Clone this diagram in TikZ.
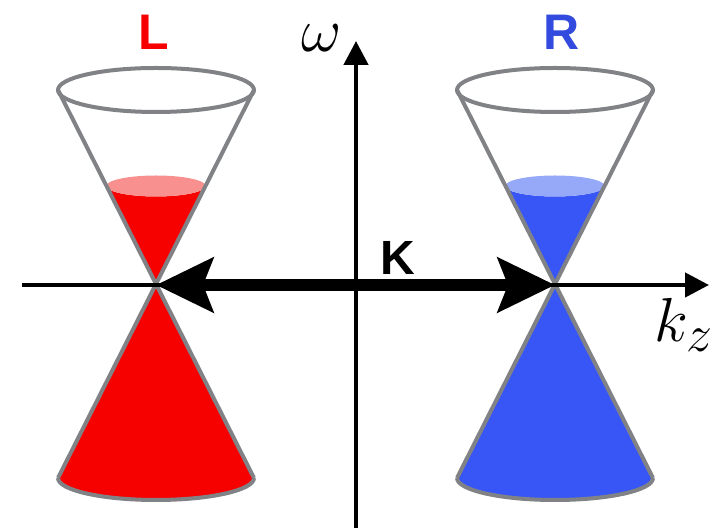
\documentclass[tikz,border=0pt]{standalone}
\usepackage{amsmath, amssymb}
\usepackage{fontspec}
\usepackage{xcolor}
\usepackage{tikz}
\usetikzlibrary{arrows.meta}
\newfontfamily\labelfont{Liberation Sans}
\definecolor{conegray}{RGB}{128,130,134}
\definecolor{lred}{RGB}{247,0,0}
\definecolor{lredtop}{RGB}{248,144,144}
\definecolor{lblue}{RGB}{56,86,246}
\definecolor{lbluetop}{RGB}{150,168,248}
\definecolor{rblue}{RGB}{50,74,222}

\begin{document}
\begin{tikzpicture}
                    [x=1pt, y=1pt,
                     conelin/.style={draw=conegray, line width=4pt},
                     axis/.style={line width=4.5pt, -{Triangle[length=24pt,width=24pt]}},
                     chirlabel/.style={font=\labelfont\bfseries\fontsize{50}{56}\selectfont},
                     axlabel/.style={font=\Huge, scale=2.5}]
                    \useasboundingbox (0,0) rectangle (726,532);
                    % cones
                    \foreach \cx/\main/\light in {156/lred/lredtop, 555/lblue/lbluetop} {
                        \fill[\main] (\cx-98,54) -- (\cx,247) -- (\cx+98,54)
                            arc[start angle=0, end angle=-180, x radius=98, y radius=22] -- cycle;
                        \fill[\main] (\cx,247) -- (\cx+49.7,346)
                            arc[start angle=0, end angle=-180, x radius=49.7, y radius=10.5] -- cycle;
                        \fill[\light] (\cx,346) ellipse[x radius=49.7, y radius=10.5];
                        \draw[conelin] (\cx-98,442) -- (\cx+98,54);
                        \draw[conelin] (\cx+98,442) -- (\cx-98,54);
                        \draw[conelin] (\cx,442) ellipse[x radius=98, y radius=22];
                        \draw[conelin] (\cx+98,54) arc[start angle=0, end angle=-180, x radius=98, y radius=22];
                    }
                    \coordinate (apexL) at (156,247);
                    \coordinate (apexR) at (555,247);
                    % axes
                    \coordinate (kzstart) at (22,247);
                    \coordinate (kzend) at (709,247);
                    \coordinate (wstart) at (356,4);
                    \coordinate (wend) at (356,491);
                    \draw[axis] (kzstart) -- (kzend);
                    \draw[axis] (wstart) -- (wend);
                    \node[axlabel] (omega) at (322,494) {$\omega$};
                    \node[axlabel] (kz) at (684,207) {$k_z$};
                    % chiralities
                    \node[chirlabel, text=lred] (L) at (154,500) {L};
                    \node[chirlabel, text=rblue] (R) at (562,500) {R};
                    \draw[line width=12pt, {Stealth[length=57pt,width=54pt,inset=10pt]}-{Stealth[length=57pt,width=54pt,inset=10pt]}]
                        (apexL) -- (apexR);
                    \node[chirlabel, font=\labelfont\bfseries\fontsize{48}{54}\selectfont] (K) at (398,274) {K};
                \end{tikzpicture}
\end{document}
